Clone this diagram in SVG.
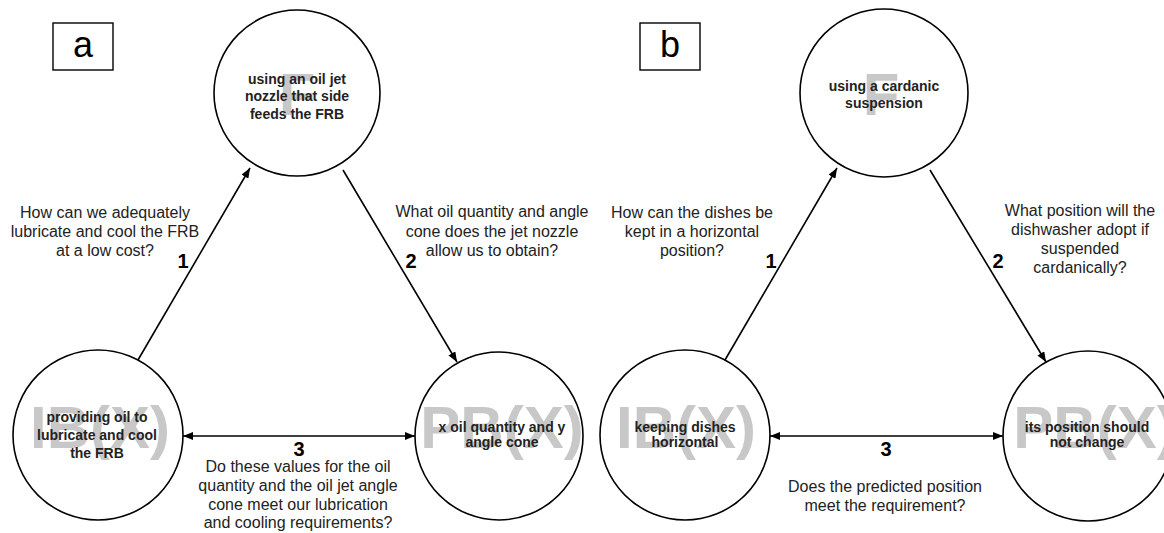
<svg xmlns="http://www.w3.org/2000/svg" width="1164" height="533" viewBox="0 0 1164 533">
  <style>
    .node { fill: #ffffff; stroke: #000000; stroke-width: 1.6; }
    .tag { fill: #ffffff; stroke: #000000; stroke-width: 1.4; }
    .tagtxt { font-family: "Liberation Sans", Arial, sans-serif; font-size: 36px; fill: #000000; text-anchor: middle; }
    .ghost { font-family: "Liberation Sans", Arial, sans-serif; font-size: 60px; font-weight: bold; fill: #c8c8c8; text-anchor: middle; }
    .ntxt { font-family: "Liberation Sans", Arial, sans-serif; font-size: 14px; font-weight: bold; fill: #222222; text-anchor: middle; }
    .q { font-family: "Liberation Sans", Arial, sans-serif; font-size: 16px; fill: #222222; text-anchor: middle; }
    .num { font-family: "Liberation Sans", Arial, sans-serif; font-size: 20px; font-weight: bold; fill: #000000; text-anchor: middle; }
    .edge { stroke: #000000; stroke-width: 1.6; fill: none; }
  </style>
  <defs>
    <marker id="head" viewBox="0 0 10 8" refX="10" refY="4" markerWidth="10" markerHeight="8" markerUnits="userSpaceOnUse" orient="auto-start-reverse">
      <path d="M0,0 L10,4 L0,8 z" fill="#000000"/>
    </marker>
  </defs>
  <rect width="1164" height="533" fill="#ffffff"/>

  <!-- panel labels -->
  <g id="label-a">
    <rect class="tag" x="53" y="23" width="60" height="47"/>
    <text class="tagtxt" x="83" y="57">a</text>
  </g>
  <g id="label-b">
    <rect class="tag" x="640" y="23" width="60" height="47"/>
    <text class="tagtxt" x="670" y="57">b</text>
  </g>

  <!-- panel a nodes -->
  <g id="a-F">
    <circle class="node" cx="297" cy="93" r="83"/>
    <text class="ghost" x="297" y="115">F</text>
    <text class="ntxt" x="297" y="83.5">using an oil jet</text>
    <text class="ntxt" x="297" y="101">nozzle that side</text>
    <text class="ntxt" x="297" y="118.5">feeds the FRB</text>
  </g>
  <g id="a-IB">
    <circle class="node" cx="98" cy="435" r="85"/>
    <text class="ghost" x="100" y="448">IB(X)</text>
    <text class="ntxt" x="97" y="422">providing oil to</text>
    <text class="ntxt" x="97" y="440">lubricate and cool</text>
    <text class="ntxt" x="97" y="458">the FRB</text>
  </g>
  <g id="a-PB">
    <circle class="node" cx="499" cy="436" r="84"/>
    <text class="ghost" x="502" y="448">PB(X)</text>
    <text class="ntxt" x="502" y="432">x oil quantity and y</text>
    <text class="ntxt" x="502" y="447">angle cone</text>
  </g>

  <!-- panel b nodes -->
  <g id="b-F">
    <circle class="node" cx="884" cy="93" r="84"/>
    <text class="ghost" x="881" y="115">F</text>
    <text class="ntxt" x="884" y="91">using a cardanic</text>
    <text class="ntxt" x="884" y="108">suspension</text>
  </g>
  <g id="b-IB">
    <circle class="node" cx="685" cy="435" r="85"/>
    <text class="ghost" x="686" y="448">IB(X)</text>
    <text class="ntxt" x="685" y="432">keeping dishes</text>
    <text class="ntxt" x="685" y="447">horizontal</text>
  </g>
  <g id="b-PB">
    <circle class="node" cx="1088" cy="436" r="85"/>
    <text class="ghost" x="1095" y="448">PB(X)</text>
    <text class="ntxt" x="1087" y="432">its position should</text>
    <text class="ntxt" x="1087" y="447">not change</text>
  </g>

  <!-- connectors -->
  <g id="connectors">
    <line class="edge" x1="138" y1="360" x2="250" y2="168" marker-end="url(#head)"/>
    <line class="edge" x1="343" y1="170" x2="457" y2="362" marker-end="url(#head)"/>
    <line class="edge" x1="183" y1="436" x2="415" y2="436" marker-start="url(#head)" marker-end="url(#head)"/>
    <line class="edge" x1="725" y1="360" x2="837" y2="168" marker-end="url(#head)"/>
    <line class="edge" x1="930" y1="170" x2="1046" y2="362" marker-end="url(#head)"/>
    <line class="edge" x1="770" y1="436" x2="1003" y2="436" marker-start="url(#head)" marker-end="url(#head)"/>
  </g>

  <!-- step numbers and questions, panel a -->
  <g id="a-labels">
    <text class="num" x="183" y="268">1</text>
    <text class="num" x="411" y="268">2</text>
    <text class="num" x="299" y="456">3</text>
    <text class="q" x="105" y="218">How can we adequately</text>
    <text class="q" x="105" y="237">lubricate and cool the FRB</text>
    <text class="q" x="105" y="256">at a low cost?</text>
    <text class="q" x="492" y="217">What oil quantity and angle</text>
    <text class="q" x="492" y="237">cone does the jet nozzle</text>
    <text class="q" x="492" y="256">allow us to obtain?</text>
    <text class="q" x="298" y="472">Do these values for the oil</text>
    <text class="q" x="298" y="491">quantity and the oil jet angle</text>
    <text class="q" x="298" y="510">cone meet our lubrication</text>
    <text class="q" x="298" y="528">and cooling requirements?</text>
  </g>

  <!-- step numbers and questions, panel b -->
  <g id="b-labels">
    <text class="num" x="771" y="268">1</text>
    <text class="num" x="998" y="268">2</text>
    <text class="num" x="886" y="456">3</text>
    <text class="q" x="692" y="218">How can the dishes be</text>
    <text class="q" x="692" y="237">kept in a horizontal</text>
    <text class="q" x="692" y="256">position?</text>
    <text class="q" x="1080" y="216">What position will the</text>
    <text class="q" x="1080" y="235">dishwasher adopt if</text>
    <text class="q" x="1080" y="254">suspended</text>
    <text class="q" x="1080" y="273">cardanically?</text>
    <text class="q" x="885" y="492">Does the predicted position</text>
    <text class="q" x="885" y="511">meet the requirement?</text>
  </g>
</svg>
